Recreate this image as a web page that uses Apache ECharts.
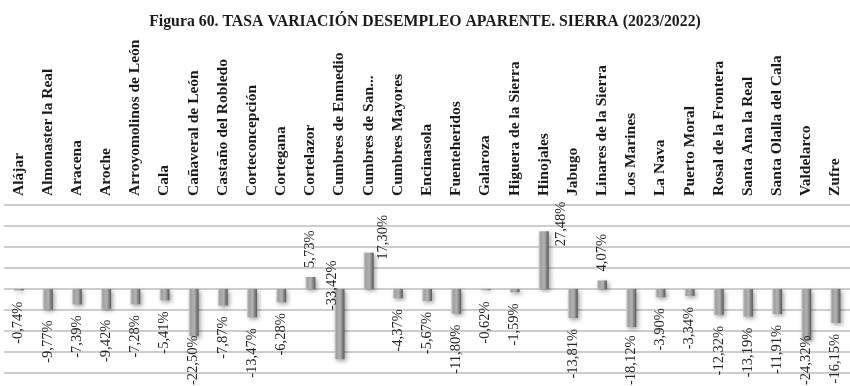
<!DOCTYPE html>
<html>
<head>
<meta charset="utf-8">
<script src="https://cdn.jsdelivr.net/npm/echarts@6/dist/echarts.min.js"></script>
<style>
  html, body { margin: 0; padding: 0; background: #ffffff; }
  #chart { width: 850px; height: 386px; }
</style>
</head>
<body>
<div id="chart"></div>
<script>
// Municipios de la Sierra
const municipios = [
  'Alájar', 'Almonaster la Real', 'Aracena', 'Aroche', 'Arroyomolinos de León',
  'Cala', 'Cañaveral de León', 'Castaño del Robledo', 'Corteconcepción', 'Cortegana',
  'Cortelazor', 'Cumbres de Enmedio', 'Cumbres de San...', 'Cumbres Mayores', 'Encinasola',
  'Fuenteheridos', 'Galaroza', 'Higuera de la Sierra', 'Hinojales', 'Jabugo',
  'Linares de la Sierra', 'Los Marines', 'La Nava', 'Puerto Moral', 'Rosal de la Frontera',
  'Santa Ana la Real', 'Santa Olalla del Cala', 'Valdelarco', 'Zufre'
];

// Tasa de variación del desempleo aparente 2023/2022 (%)
const tasas = [
  -0.74, -9.77, -7.39, -9.42, -7.28,
  -5.41, -22.50, -7.87, -13.47, -6.28,
  5.73, -33.42, 17.30, -4.37, -5.67,
  -11.80, -0.62, -1.59, 27.48, -13.81,
  4.07, -18.12, -3.90, -3.34, -12.32,
  -13.19, -11.91, -24.32, -16.15
];

// Escala del eje de valores (sin etiquetas visibles)
const ejeMin = -40;
const ejeMax = 40;
const ejePaso = 10;

const fuente = "'Liberation Serif', 'Times New Roman', serif";

// Etiquetas colocadas a mano en algunas barras
const ajustesEtiqueta = {
  'Cumbres de Enmedio': { position: [-2, 21] },
  'Cumbres de San...': { position: [20, 7] },
  'Hinojales': { position: [22, 15] }
};

function formatoPct(v) {
  return v.toFixed(2).replace('.', ',') + '%';
}

const datos = tasas.map(function (v, i) {
  const ajuste = ajustesEtiqueta[municipios[i]];
  let label;
  if (ajuste) {
    label = { position: ajuste.position, align: 'left', verticalAlign: 'middle' };
  } else if (v < 0) {
    label = { position: 'bottom', distance: 11, align: 'right', verticalAlign: 'middle' };
  } else {
    label = { position: 'top', distance: 9, align: 'left', verticalAlign: 'middle' };
  }
  return { value: v, label: label };
});

const chart = echarts.init(document.getElementById('chart'), null, { renderer: 'canvas' });

chart.setOption({
  animation: false,
  backgroundColor: '#ffffff',
  title: {
    text: 'Figura 60. TASA VARIACIÓN DESEMPLEO APARENTE. SIERRA (2023/2022)',
    left: 'center',
    top: 9,
    textStyle: {
      fontFamily: fuente,
      fontWeight: 'bold',
      fontSize: 15.8,
      color: '#1a1a1a'
    }
  },
  grid: {
    left: 4,
    width: 848,
    top: 205,
    bottom: 13,
    containLabel: false
  },
  xAxis: {
    type: 'category',
    position: 'top',
    data: municipios,
    axisLine: { show: false },
    axisTick: { show: false },
    splitLine: { show: false },
    axisLabel: {
      interval: 0,
      rotate: 90,
      margin: 9,
      fontFamily: fuente,
      fontWeight: 'bold',
      fontSize: 15.5,
      color: '#1a1a1a'
    }
  },
  yAxis: {
    type: 'value',
    min: ejeMin,
    max: ejeMax,
    interval: ejePaso,
    axisLine: { show: false },
    axisTick: { show: false },
    axisLabel: { show: false },
    splitLine: { lineStyle: { color: '#bdbdbd', width: 1.5 } }
  },
  series: [{
    type: 'bar',
    data: datos,
    barWidth: 10,
    itemStyle: {
      color: new echarts.graphic.LinearGradient(0, 0, 1, 0, [
        { offset: 0, color: '#d6d6d6' },
        { offset: 0.2, color: '#a0a0a0' },
        { offset: 0.55, color: '#b2b2b2' },
        { offset: 0.8, color: '#838383' },
        { offset: 1, color: '#555555' }
      ]),
      shadowColor: 'rgba(0,0,0,0.35)',
      shadowBlur: 4,
      shadowOffsetX: 2,
      shadowOffsetY: 2
    },
    label: {
      show: true,
      rotate: 90,
      fontFamily: fuente,
      fontSize: 14.5,
      color: '#262626',
      formatter: function (p) { return formatoPct(p.value); }
    },
    // Las etiquetas que se saldrían por abajo se suben hasta caber en el lienzo
    labelLayout: function (p) {
      const r = p.labelRect;
      const limite = 385;
      if (r.y + r.height <= limite) {
        return {};
      }
      return { x: r.x + r.width / 2, y: limite - r.height };
    }
  }]
});
</script>
</body>
</html>
